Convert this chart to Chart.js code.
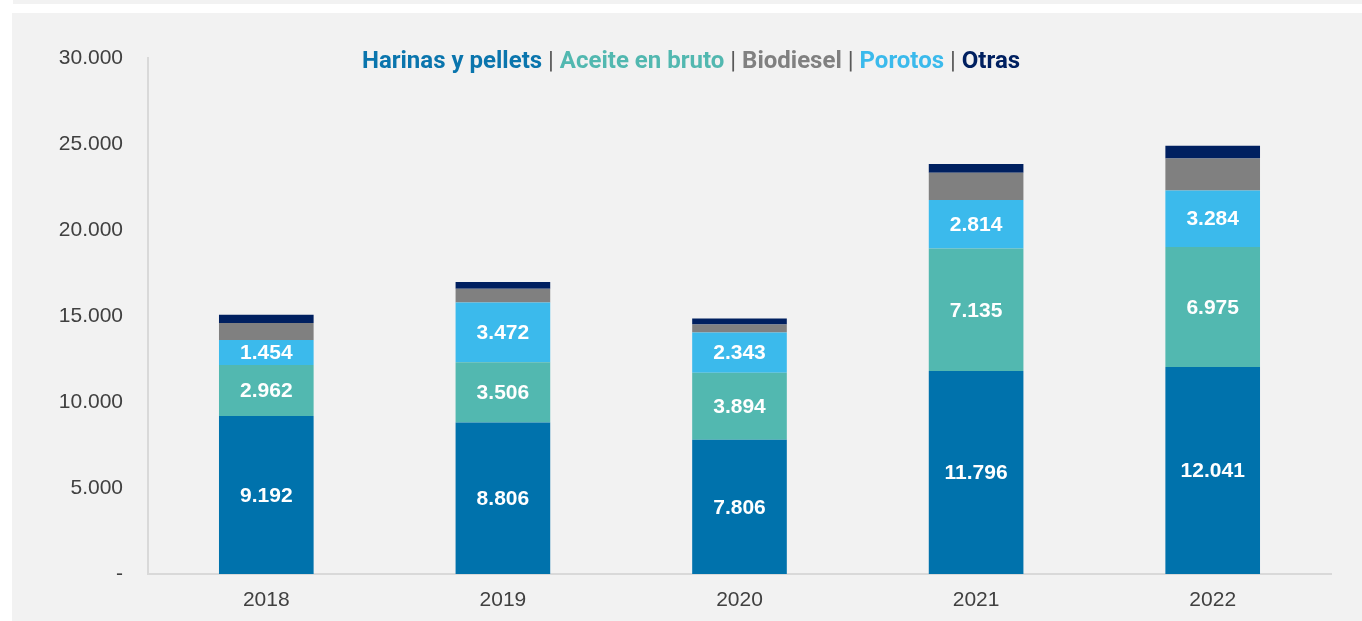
<!DOCTYPE html>
<html>
<head>
<meta charset="utf-8">
<script src="https://cdn.jsdelivr.net/npm/chart.js@4/dist/chart.umd.min.js"></script>
<style>
  html, body { margin: 0; padding: 0; background: #ffffff; width: 1362px; height: 621px; overflow: hidden; }
  #strip { position: absolute; left: 13px; top: 0; width: 1349px; height: 4px; background: #f2f2f2; }
  #panel { position: absolute; left: 12px; top: 13px; width: 1350px; height: 608px; background: #f2f2f2; }
  #legend {
    position: absolute; left: 0; width: 1382px; top: 46px; text-align: center;
    font-family: Roboto, "Liberation Sans", Arial, sans-serif; font-weight: bold; font-size: 24px;
    line-height: 28px; white-space: nowrap;
  }
  #legend .sep { color: #595959; font-weight: normal; }
</style>
</head>
<body>
<div id="strip"></div>
<div id="panel">
  <canvas id="chart" width="1350" height="608"></canvas>
</div>
<div id="legend"></div>
<script>
// valores (miles de toneladas)
const years = ['2018', '2019', '2020', '2021', '2022'];
const harinas = [9192, 8806, 7806, 11796, 12041];
const aceite = [2962, 3506, 3894, 7135, 6975];
const porotos = [1454, 3472, 2343, 2814, 3284];
const biodiesel = [990, 800, 465, 1590, 1860];
const otras = [470, 390, 350, 505, 740];
const yTicks = [0, 5000, 10000, 15000, 20000, 25000, 30000];

const series = [
  {label: 'Harinas y pellets', data: harinas, color: '#0072ac', text: '#0a75ad', showLabel: true},
  {label: 'Aceite en bruto', data: aceite, color: '#52b8b0', text: '#52b8b0', showLabel: true},
  {label: 'Porotos', data: porotos, color: '#3bbaec', text: '#3bbaec', showLabel: true},
  {label: 'Biodiesel', data: biodiesel, color: '#808080', text: '#808080', showLabel: false},
  {label: 'Otras', data: otras, color: '#002060', text: '#002060', showLabel: false}
];
const legendOrder = ['Harinas y pellets', 'Aceite en bruto', 'Biodiesel', 'Porotos', 'Otras'];

function fmt(v) {
  return v.toLocaleString('de-DE');
}

// legend as coloured text with separators
document.getElementById('legend').innerHTML = legendOrder.map(function(name) {
  const s = series.find(x => x.label === name);
  return '<span style="color:' + s.text + '">' + name + '</span>';
}).join('<span class="sep"> | </span>');

const barLabels = {
  id: 'barLabels',
  afterDatasetsDraw(chart) {
    const ctx = chart.ctx;
    ctx.save();
    ctx.fillStyle = '#ffffff';
    ctx.font = 'bold 21px "Liberation Sans", Arial, sans-serif';
    ctx.textAlign = 'center';
    ctx.textBaseline = 'middle';
    chart.data.datasets.forEach(function(ds, i) {
      if (!ds.showLabel) return;
      chart.getDatasetMeta(i).data.forEach(function(el, j) {
        ctx.fillText(fmt(ds.data[j]), el.x, (el.y + el.base) / 2 + 1);
      });
    });
    ctx.restore();
  }
};

const tickFont = {family: '"Liberation Sans", Arial, sans-serif', size: 21};

new Chart(document.getElementById('chart'), {
  type: 'bar',
  data: {
    labels: years,
    datasets: series.map(s => ({
      label: s.label,
      data: s.data,
      backgroundColor: s.color,
      borderWidth: 0,
      showLabel: s.showLabel,
      categoryPercentage: 1,
      barPercentage: 0.4
    }))
  },
  options: {
    responsive: false,
    animation: false,
    layout: {padding: {top: 45, right: 31, left: 0, bottom: 0}},
    plugins: {legend: {display: false}, tooltip: {enabled: false}},
    scales: {
      x: {
        stacked: true,
        grid: {display: false, drawTicks: false},
        border: {color: '#d9d9d9', width: 2},
        ticks: {color: '#404040', font: tickFont, padding: 14},
        afterFit: function(scale) { scale.height = 47; }
      },
      y: {
        stacked: true,
        min: 0,
        max: 30000,
        grid: {display: false, drawTicks: false},
        border: {color: '#d9d9d9', width: 2},
        afterBuildTicks: function(scale) { scale.ticks = yTicks.map(v => ({value: v})); },
        ticks: {
          color: '#404040',
          font: tickFont,
          padding: 25,
          callback: function(v) { return v === 0 ? '-' : fmt(v); }
        },
        afterFit: function(scale) { scale.width = 136; }
      }
    }
  },
  plugins: [barLabels]
});
</script>
</body>
</html>
